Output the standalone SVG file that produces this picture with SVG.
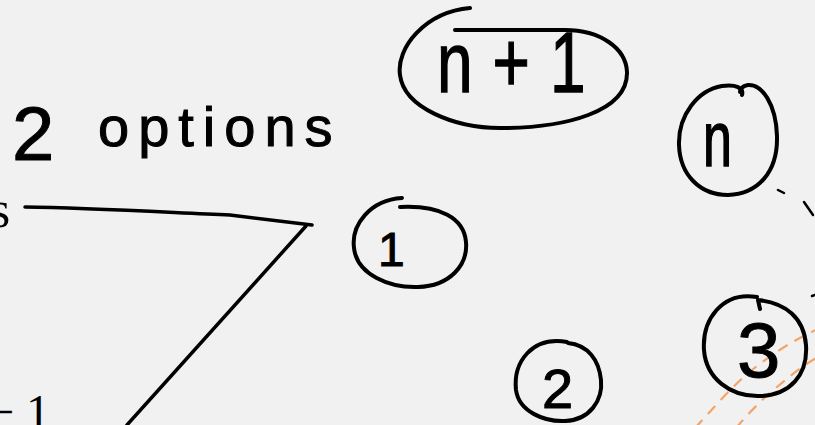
<svg xmlns="http://www.w3.org/2000/svg" width="815" height="425" viewBox="0 0 815 425">
  <defs>
    <style>
      .ink { fill: none; stroke: #000; stroke-width: 4; stroke-linecap: round; stroke-linejoin: round; }
      .line { fill: none; stroke: #000; stroke-width: 3.5; stroke-linecap: round; }
      .dash { fill: none; stroke: #000; stroke-width: 2.5; stroke-linecap: round; }
      .orange { fill: none; stroke: #f2a46a; stroke-width: 2.2; stroke-dasharray: 11 8; }
      .hand { font-family: "Liberation Sans", "DejaVu Sans", sans-serif; fill: #000; stroke: #000; stroke-width: 1; }
      .math { font-family: "Liberation Serif", "DejaVu Serif", serif; fill: #000; }
    </style>
  </defs>
  <rect x="0" y="0" width="815" height="425" fill="#f1f1f1"/>

  <g id="math-labels">
    <text class="math" x="-10" y="227" font-size="52">s</text>
    <text class="math" x="-13" y="428" font-size="48">− 1</text>
  </g>

  <g id="title">
    <text class="hand" x="12" y="160" font-size="76">2</text>
    <text class="hand" x="98" y="146" font-size="56" letter-spacing="9">options</text>
  </g>

  <g id="connectors">
    <path class="line" d="M25,207 C90,208 160,212 230,215 L312,225"/>
    <path class="line" d="M306,226 L127,425"/>
    <path class="dash" d="M778,190 L784,193"/>
    <path class="dash" d="M804,202 L813,215"/>
    <path class="dash" d="M812,296 L815,295"/>
    <path class="orange" d="M695,428 C712,410 730,388 752,370 C772,354 792,341 818,329"/>
    <path class="orange" d="M736,428 C748,414 762,399 777,387 C790,376 802,366 818,357"/>
  </g>

  <g id="node-n-plus-1">
    <path class="ink" d="M470,8 C425,12 396,48 400,75 C404,108 455,128 500,128 C565,128 628,112 627,72 C626,48 600,30 565,30 L455,30"/>
    <text class="hand" x="437" y="92" font-size="64" letter-spacing="20" transform="translate(0,-30) scale(1,1.33)">n+1</text>
  </g>

  <g id="node-n">
    <path class="ink" d="M742,95 C744,88 736,84 722,86 C698,90 678,115 679,145 C680,175 700,195 728,195 C758,194 778,172 777,136 C776,104 762,84 748,85 C743,86 740,88 740,92"/>
    <text class="hand" x="703" y="166" font-size="52" transform="translate(0,-83) scale(1,1.5)">n</text>
  </g>

  <g id="node-1">
    <path class="ink" d="M402,198 C370,200 351,225 354,248 C357,275 390,288 418,287 C450,286 468,265 466,242 C464,218 440,205 400,207"/>
    <text class="hand" x="378" y="266" font-size="48">1</text>
  </g>

  <g id="node-2">
    <path class="ink" d="M567,342 C532,336 513,362 516,390 C519,412 545,422 565,421 C590,420 603,400 601,380 C599,360 588,345 568,343"/>
    <text class="hand" x="542" y="408" font-size="56">2</text>
  </g>

  <g id="node-3">
    <path class="ink" d="M757,297 C722,291 702,320 704,350 C706,378 730,397 760,396 C790,395 808,375 806,345 C804,318 786,303 758,300 L760,309"/>
    <text class="hand" x="737" y="377" font-size="78">3</text>
  </g>
</svg>
